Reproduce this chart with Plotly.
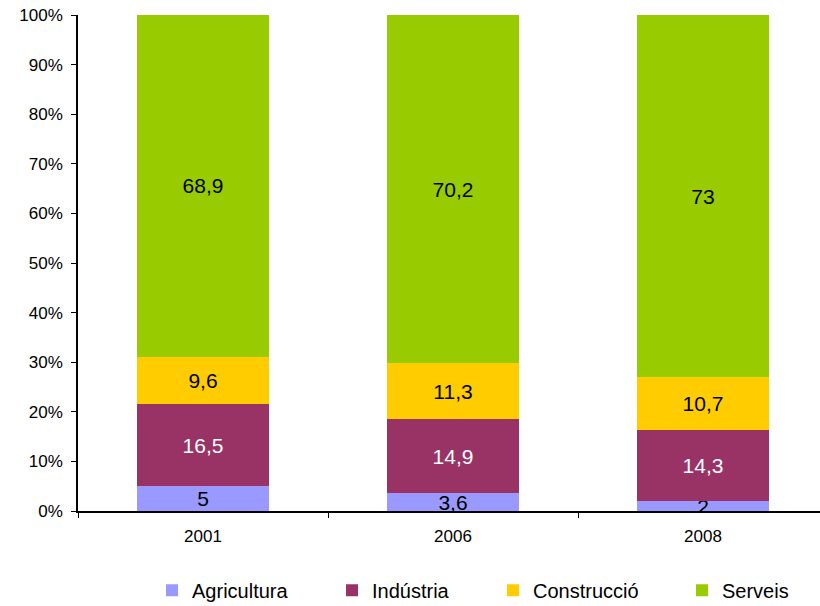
import plotly.graph_objects as go

years = ['2001', '2006', '2008']
agricultura = [5, 3.6, 2]
industria = [16.5, 14.9, 14.3]
construccio = [9.6, 11.3, 10.7]
serveis = [68.9, 70.2, 73]

series = [
    ('Agricultura', agricultura, '#9999FF', 'black'),
    ('Indústria', industria, '#993366', 'white'),
    ('Construcció', construccio, '#FFCC00', 'black'),
    ('Serveis', serveis, '#99CC00', 'black'),
]

# legend box left edges, as fraction of the whole figure width
legend_x = [0.1854, 0.4049, 0.6012, 0.8317]

fig = go.Figure()
for i, (name, vals, color, txtcolor) in enumerate(series):
    fig.add_trace(go.Bar(
        x=years,
        y=vals,
        name=name,
        marker=dict(color=color, line=dict(width=0)),
        width=0.53,
        text=[str(v).replace('.', ',') for v in vals],
        textposition='inside',
        insidetextanchor='middle',
        textangle=0,
        textfont=dict(color=txtcolor, size=21),
        legend='legend' if i == 0 else 'legend%d' % (i + 1),
    ))

layout_legends = {}
for i, lx in enumerate(legend_x):
    key = 'legend' if i == 0 else 'legend%d' % (i + 1)
    layout_legends[key] = dict(
        x=lx, y=0.026, xref='container', yref='container',
        xanchor='left', yanchor='middle',
        orientation='h',
        font=dict(size=20, color='black'),
        bgcolor='rgba(0,0,0,0)',
    )

fig.update_layout(
    barmode='stack',
    width=820,
    height=606,
    margin=dict(l=78, r=0, t=15, b=95),
    plot_bgcolor='white',
    paper_bgcolor='white',
    font=dict(family='Liberation Sans, Arial', color='black'),
    uniformtext=dict(minsize=21, mode='show'),
    showlegend=True,
    xaxis=dict(
        type='category',
        range=[-0.5, 2.468],
        automargin=False,
        showline=True,
        linecolor='black',
        linewidth=1.5,
        ticks='outside',
        tickson='boundaries',
        ticklen=5,
        tickcolor='black',
        tickfont=dict(size=17),
        ticklabelstandoff=9,
        showgrid=False,
    ),
    yaxis=dict(
        range=[0, 100],
        dtick=10,
        ticksuffix='%',
        automargin=False,
        showline=True,
        linecolor='black',
        linewidth=1.5,
        ticks='outside',
        ticklen=5,
        tickcolor='black',
        tickfont=dict(size=17),
        ticklabelstandoff=5,
        showgrid=False,
        zeroline=False,
    ),
    **layout_legends,
)

# drop the default 8px page margin so the figure sits at the window's corner
fig.write_html(
    "out.html",
    config={'displayModeBar': False},
    post_script="document.body.style.margin='0px';",
)
